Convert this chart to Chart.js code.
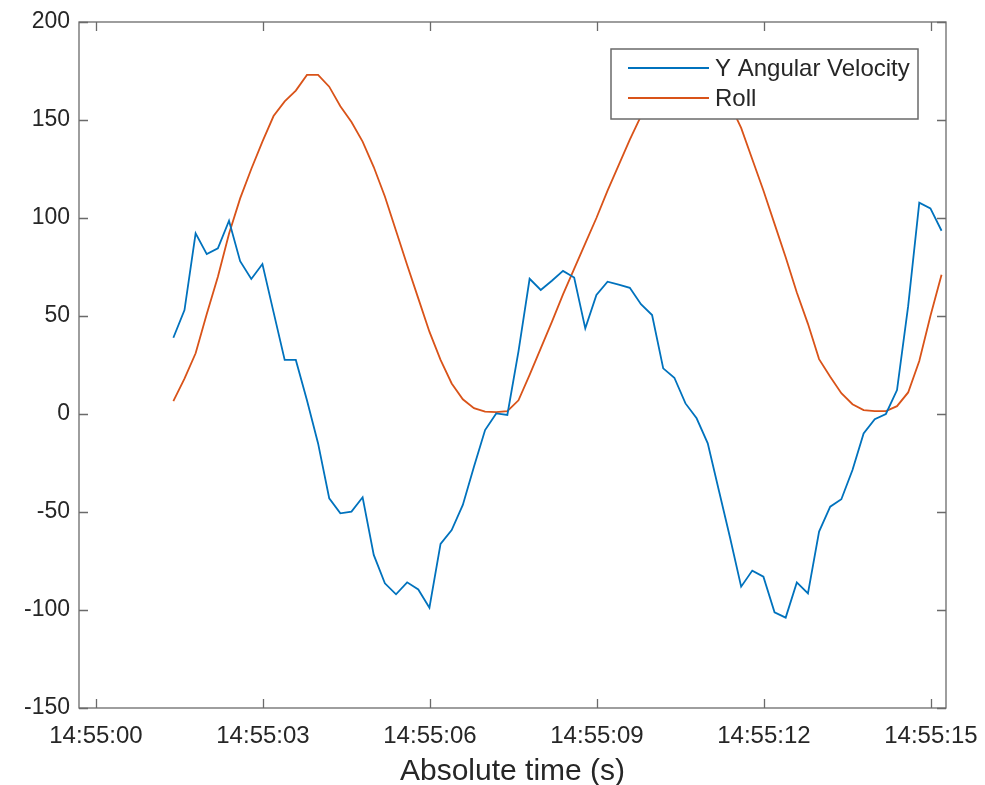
<!DOCTYPE html>
<html>
<head>
<meta charset="utf-8">
<script src="https://cdn.jsdelivr.net/npm/chart.js@4.4.1/dist/chart.umd.min.js"></script>
<style>
  html, body { margin: 0; padding: 0; background: #ffffff; }
  #wrap { width: 985px; height: 785px; position: relative; }
</style>
</head>
<body>
<div id="wrap"><canvas id="c" width="985" height="785"></canvas></div>
<script>
// seconds after 14:55:00
const times = [1.39,1.59,1.79,1.99,2.19,2.39,2.59,2.79,2.99,3.19,
  3.39,3.59,3.79,3.99,4.19,4.39,4.59,4.79,4.99,5.19,
  5.39,5.59,5.79,5.99,6.19,6.39,6.59,6.79,6.99,7.19,
  7.39,7.59,7.79,7.99,8.19,8.39,8.59,8.79,8.99,9.19,
  9.39,9.59,9.79,9.99,10.19,10.39,10.59,10.79,10.99,11.19,
  11.39,11.59,11.79,11.99,12.19,12.39,12.59,12.79,12.99,13.19,
  13.39,13.59,13.79,13.99,14.19,14.39,14.59,14.79,14.99,15.19];

const yAngularVelocity = [38.9, 53, 92.2, 81.6, 84.5, 98.6, 78, 68.9, 76.5, 52,
  27.6, 27.6, 7, -15, -43, -50.7, -49.8, -42.5, -71.9, -86.4,
  -92, -85.9, -89.5, -98.8, -66.3, -59.2, -46.4, -26.9, -8.2, 0.3,
  -0.5, 32, 69, 63.3, 68, 73, 69.6, 43.7, 60.7, 67.5,
  66, 64.4, 56, 50.5, 23.3, 18.5, 5.4, -2.2, -15, -39,
  -63, -88.1, -79.9, -83, -101.2, -103.9, -85.9, -91.5, -60, -47.3,
  -43.5, -28.6, -9.9, -2.7, 0, 12.2, 55, 107.8, 104.9, 93.5];

const roll = [6.6, 18, 31, 51, 70, 92, 110, 125, 139, 152,
  159.5, 165, 173, 173, 167, 157, 149, 139, 126, 111,
  93.5, 76, 59, 42, 27.6, 15.6, 7.5, 3, 1.2, 1,
  1.5, 7, 20, 33.5, 47, 61, 74, 87, 100, 114,
  127, 140, 152, 163, 171, 177, 180, 179, 175, 168,
  158, 146, 130, 114, 97, 80, 62, 46, 28, 19,
  10.6, 5, 2, 1.5, 1.5, 4, 11, 27, 50, 71];

const seriesNames = ['Y Angular Velocity', 'Roll'];
const xTickValues = [0, 3, 6, 9, 12, 15];
const xTickLabels = ['14:55:00', '14:55:03', '14:55:06', '14:55:09', '14:55:12', '14:55:15'];
const yTickValues = [-150, -100, -50, 0, 50, 100, 150, 200];
const xAxisTitle = 'Absolute time (s)';

const COLORS = ['#0072BD', '#D95319'];
const FONT = "'Liberation Sans', Arial, Helvetica, sans-serif";
const TEXT = '#262626';
const AXIS = '#6a6a6a';

const toPoints = (vals) => vals.map((v, i) => ({ x: times[i], y: v }));

const boxPlugin = {
  id: 'matlabBox',
  afterDatasetsDraw(chart) {
    const { ctx, chartArea: a, scales } = chart;
    const tl = 9;
    ctx.save();
    ctx.strokeStyle = AXIS;
    ctx.lineWidth = 1.3;
    ctx.strokeRect(a.left, a.top, a.right - a.left, a.bottom - a.top);
    ctx.beginPath();
    scales.x.ticks.forEach(t => {
      const px = Math.round(scales.x.getPixelForValue(t.value)) + 0.5;
      ctx.moveTo(px, a.bottom); ctx.lineTo(px, a.bottom - tl);
      ctx.moveTo(px, a.top); ctx.lineTo(px, a.top + tl);
    });
    scales.y.ticks.forEach(t => {
      const py = Math.round(scales.y.getPixelForValue(t.value)) + 0.5;
      ctx.moveTo(a.left, py); ctx.lineTo(a.left + tl, py);
      ctx.moveTo(a.right, py); ctx.lineTo(a.right - tl, py);
    });
    ctx.stroke();

    // legend box (inside axes, north-east)
    const lx = 611, ly = 49, lw = 307, lh = 70;
    ctx.fillStyle = '#ffffff';
    ctx.fillRect(lx, ly, lw, lh);
    ctx.strokeStyle = AXIS;
    ctx.lineWidth = 1.5;
    ctx.strokeRect(lx, ly, lw, lh);
    const rows = [68, 98];
    chart.data.datasets.forEach((ds, i) => {
      ctx.strokeStyle = ds.borderColor;
      ctx.lineWidth = 2;
      ctx.beginPath();
      ctx.moveTo(628, rows[i]); ctx.lineTo(709, rows[i]);
      ctx.stroke();
      ctx.fillStyle = TEXT;
      ctx.font = '24px ' + FONT;
      ctx.textAlign = 'left';
      ctx.textBaseline = 'middle';
      ctx.fillText(ds.label, 715, rows[i] + 1);
    });
    ctx.restore();
  }
};

new Chart(document.getElementById('c'), {
  type: 'line',
  data: {
    datasets: [
      { label: seriesNames[0], data: toPoints(yAngularVelocity), borderColor: COLORS[0], backgroundColor: COLORS[0], borderWidth: 1.8, pointRadius: 0, tension: 0, fill: false },
      { label: seriesNames[1], data: toPoints(roll), borderColor: COLORS[1], backgroundColor: COLORS[1], borderWidth: 1.8, pointRadius: 0, tension: 0, fill: false }
    ]
  },
  options: {
    responsive: false,
    animation: false,
    devicePixelRatio: 1,
    layout: { padding: { top: 22, right: 39, bottom: 0, left: 0 } },
    plugins: { legend: { display: false }, tooltip: { enabled: false } },
    scales: {
      x: {
        type: 'linear',
        min: -0.305,
        max: 15.27,
        afterBuildTicks: (s) => { s.ticks = xTickValues.map(v => ({ value: v })); },
        afterFit: (s) => { s.height = 77; s.paddingLeft = 0; s.paddingRight = 0; },
        grid: { display: false, drawTicks: false },
        border: { display: false },
        ticks: {
          autoSkip: false, maxRotation: 0, padding: 14, color: TEXT,
          font: { family: FONT, size: 24 },
          callback: (v) => { const k = xTickValues.indexOf(v); return k >= 0 ? xTickLabels[k] : ''; }
        },
        title: { display: true, text: xAxisTitle, color: TEXT, font: { family: FONT, size: 30, lineHeight: 1 }, padding: { top: 0, bottom: -2 } }
      },
      y: {
        type: 'linear',
        min: -150,
        max: 200,
        afterBuildTicks: (s) => { s.ticks = yTickValues.map(v => ({ value: v })); },
        afterFit: (s) => { s.width = 79; s.paddingTop = 0; s.paddingBottom = 0; },
        grid: { display: false, drawTicks: false },
        border: { display: false },
        ticks: { padding: 9, color: TEXT, font: { family: FONT, size: 23 } }
      }
    }
  },
  plugins: [boxPlugin]
});
</script>
</body>
</html>
